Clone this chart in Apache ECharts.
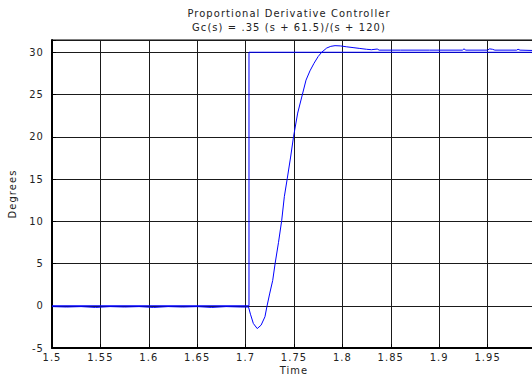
<!DOCTYPE html>
<html>
<head>
<meta charset="utf-8">
<script src="https://cdn.jsdelivr.net/npm/echarts@6/dist/echarts.min.js"></script>
<style>
  html, body { margin: 0; padding: 0; background: #fff; }
  #chart { width: 532px; height: 377px; }
  /* loose, narrow lettering for all chart text */
  #chart text { letter-spacing: 1.1px; }
</style>
</head>
<body>
<div id="chart"></div>
<script>
// Closed-loop response of the PD-compensated system (degrees vs. seconds)
const respTime = [
  1.500, 1.515, 1.530, 1.545, 1.560, 1.575, 1.590, 1.605, 1.620, 1.635,
  1.650, 1.665, 1.680, 1.695, 1.7030, 1.7050, 1.7080, 1.7120, 1.7160, 1.7200,
  1.7220, 1.7250, 1.7280, 1.7305, 1.7340, 1.7373, 1.7400, 1.7431, 1.7465, 1.7495,
  1.7538, 1.7580, 1.7624, 1.7665, 1.7707, 1.7750, 1.7786, 1.7838, 1.7880, 1.7924,
  1.7980, 1.8040, 1.8110, 1.8180, 1.8250, 1.8300, 1.8360, 1.8380, 1.8600, 1.8900,
  1.9240, 1.9256, 1.9275, 1.9500, 1.9520, 1.9550, 1.9575, 1.9800, 1.9815, 1.9835,
  2.0000
];
const respDeg = [
  -0.10, -0.15, -0.10, -0.20, -0.10, -0.15, -0.10, -0.20, -0.10, -0.15,
  -0.10, -0.20, -0.10, -0.15, -0.15, -1.00, -2.10, -2.70, -2.30, -1.30,
  -0.10, 1.50, 3.00, 5.00, 7.50, 10.10, 12.90, 15.10, 17.60, 20.00,
  22.80, 24.70, 26.70, 27.80, 28.70, 29.50, 30.00, 30.50, 30.70, 30.78,
  30.75, 30.65, 30.55, 30.45, 30.35, 30.30, 30.38, 30.25, 30.25, 30.25,
  30.25, 30.40, 30.25, 30.25, 30.40, 30.35, 30.25, 30.25, 30.35, 30.25,
  30.20
];

// Commanded step input
const stepTime = [1.5, 1.7035, 1.7035, 2.0];
const stepDeg  = [0, 0, 30, 30];

// Axis ticks
const xTicks = [1.5, 1.55, 1.6, 1.65, 1.7, 1.75, 1.8, 1.85, 1.9, 1.95];
const yTicks = [-5, 0, 5, 10, 15, 20, 25, 30];

const titleLines = ['Proportional Derivative Controller', 'Gc(s) = .35 (s + 61.5)/(s + 120)'];

const FONT = "'Liberation Sans Narrow', 'DejaVu Sans Condensed', 'Liberation Sans', sans-serif";
const TXT = '#222';

const pairs = (xs, ys) => xs.map((x, i) => [x, ys[i]]);
const nearTick = (v, ticks) => ticks.some(t => Math.abs(t - v) < 1e-6);

const chart = echarts.init(document.getElementById('chart'), null, { renderer: 'svg' });

chart.setOption({
  backgroundColor: '#fff',
  animation: false,
  title: {
    text: titleLines.join('\n'),
    left: 284,
    top: 1,
    textAlign: 'center',
    textStyle: { fontFamily: FONT, fontSize: 11, fontWeight: 'normal', color: TXT, lineHeight: 14 }
  },
  grid: {
    left: 52, top: 40, right: -4, bottom: 29,
    containLabel: false,
    outerBoundsMode: 'none',
    show: true, borderColor: '#000', borderWidth: 1, backgroundColor: '#fff'
  },
  xAxis: {
    type: 'value',
    min: 1.5, max: 2.0, interval: 0.05,
    name: 'Time',
    nameLocation: 'middle',
    nameGap: 22,
    nameMoveOverlap: false,
    nameTextStyle: { fontFamily: FONT, fontSize: 11, color: TXT, lineHeight: 12, verticalAlign: 'middle' },
    axisLine: { show: true, onZero: false, lineStyle: { color: '#000', width: 2 } },
    axisTick: { show: true, inside: true, length: 4, lineStyle: { color: '#000' } },
    axisLabel: {
      fontFamily: FONT, fontSize: 11, color: TXT, margin: 4,
      formatter: v => nearTick(v, xTicks) ? String(Math.round(v * 100) / 100) : ''
    },
    splitLine: { show: true, lineStyle: { color: '#1a1a1a', width: 1 } }
  },
  yAxis: {
    type: 'value',
    min: -5, max: 31.45, interval: 5,
    name: 'Degrees',
    nameLocation: 'middle',
    nameGap: 34,
    nameMoveOverlap: false,
    nameRotate: 90,
    nameTextStyle: { fontFamily: FONT, fontSize: 11, color: TXT },
    axisLine: { show: true, lineStyle: { color: '#000', width: 2 } },
    axisTick: { show: true, inside: true, length: 4, lineStyle: { color: '#000' } },
    axisLabel: {
      fontFamily: FONT, fontSize: 11, color: TXT, margin: 8,
      formatter: v => nearTick(v, yTicks) ? String(Math.round(v)) : ''
    },
    splitLine: { show: true, lineStyle: { color: '#1a1a1a', width: 1 } }
  },
  series: [
    {
      name: 'step', type: 'line', data: pairs(stepTime, stepDeg),
      showSymbol: false, lineStyle: { color: '#0000ff', width: 1 }, z: 3
    },
    {
      name: 'response', type: 'line', data: pairs(respTime, respDeg),
      showSymbol: false, lineStyle: { color: '#0000ff', width: 1 }, z: 4
    }
  ]
});
</script>
</body>
</html>
